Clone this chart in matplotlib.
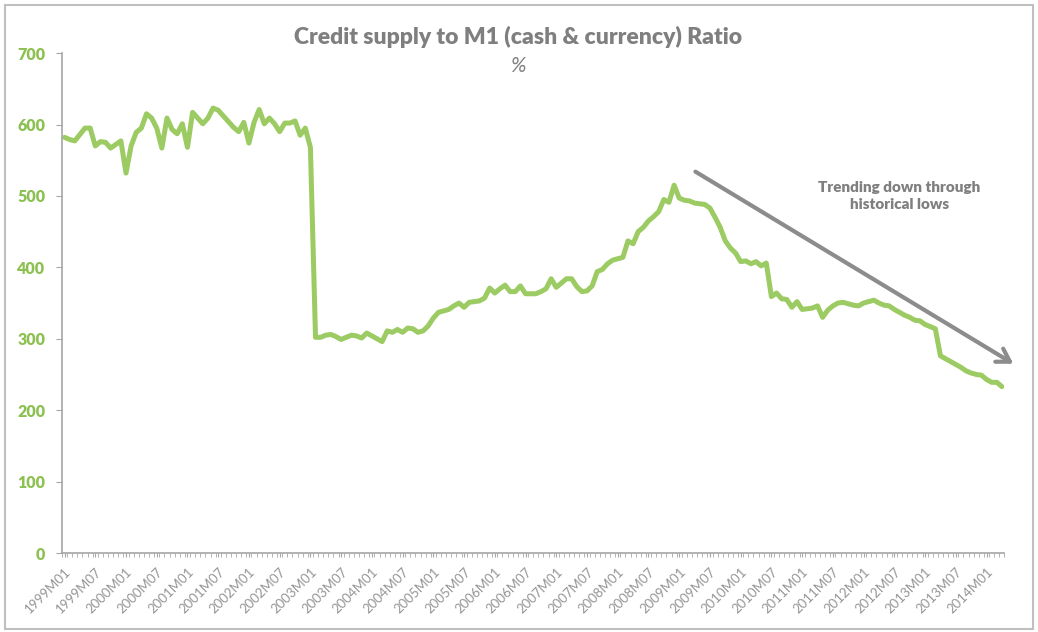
import numpy as np
import matplotlib
matplotlib.use('Agg')
import matplotlib.pyplot as plt
from matplotlib.patches import Rectangle

plt.rcParams['font.family'] = ['Lato', 'DejaVu Sans']

# monthly ratio, 1999M01 .. 2014M04
ratio = [
	582, 579, 577, 586, 595, 595, 570, 576, 575, 567, 572, 577,
	532, 570, 589, 595, 615, 609, 595, 567, 609, 593, 587, 601,
	568, 617, 609, 601, 609, 623, 620, 612, 604, 596, 590, 603,
	574, 603, 621, 601, 609, 601, 590, 602, 602, 605, 585, 595,
	568, 302, 302, 305, 306, 303, 299, 302, 305, 304, 301, 308,
	304, 300, 296, 311, 309, 313, 309, 315, 314, 309, 311, 318,
	329, 337, 339, 341, 346, 350, 344, 351, 352, 353, 357, 371,
	364, 370, 375, 366, 366, 374, 363, 363, 363, 366, 370, 384,
	372, 378, 384, 384, 373, 366, 367, 374, 394, 397, 405, 410,
	412, 414, 437, 433, 450, 456, 465, 471, 478, 495, 491, 515,
	497, 494, 493, 490, 489, 488, 483, 470, 456, 437, 427, 420,
	408, 409, 405, 408, 402, 406, 359, 364, 356, 355, 344, 352,
	341, 342, 343, 346, 330, 340, 346, 350, 351, 349, 347, 346,
	350, 352, 354, 350, 347, 346, 341, 337, 333, 330, 326, 325,
	320, 317, 314, 276, 272, 268, 264, 260, 255, 252, 250, 249,
	243, 239, 239, 233,
]
months = ['%dM%02d' % (1999 + i // 12, i % 12 + 1) for i in range(len(ratio))]
yticks = [0, 100, 200, 300, 400, 500, 600, 700]

green = '#9BCB62'
label_green = '#8CC152'
grey = '#7F7F7F'

fig = plt.figure(figsize=(10.38, 6.32), dpi=100)
ax = fig.add_axes([0.0597, 0.125, 0.908, 0.791])
x = np.arange(len(ratio))
ax.plot(x, ratio, color=green, linewidth=3.6, solid_joinstyle='round', solid_capstyle='round')

ax.set_xlim(-0.5, len(ratio) - 0.5)
ax.set_ylim(0, 700)
ax.set_yticks(yticks)
ax.set_yticklabels([str(v) for v in yticks], fontsize=11.5, fontweight='heavy', color=label_green)
ax.set_xticks(x[::6])
ax.set_xticklabels(months[::6], rotation=45, ha='right', va='top', rotation_mode='anchor',
	fontsize=9.5, color='#959595')
ax.set_xticks(np.arange(-0.5, len(ratio), 1), minor=True)
ax.tick_params(axis='x', which='both', length=3, color='#A6A6A6', pad=6)
ax.tick_params(axis='y', length=4, color='#A6A6A6', pad=8)

for s in ['top', 'right']:
	ax.spines[s].set_visible(False)
for s in ['left', 'bottom']:
	ax.spines[s].set_color('#A6A6A6')
	ax.spines[s].set_linewidth(1.2)

ax.annotate('', xy=(185.7, 263), xytext=(122.7, 536), annotation_clip=False,
	arrowprops=dict(arrowstyle='->, head_length=0.9, head_width=0.55', lw=3, color='#8C8C8C'))
ax.text(163, 500, 'Trending down through\nhistorical lows', ha='center', va='center',
	fontsize=11, fontweight='heavy', color=grey, linespacing=1.35)

fig.text(0.499, 0.941, 'Credit supply to M1 (cash & currency) Ratio', ha='center', va='center',
	fontsize=16.5, fontweight='heavy', color=grey)
fig.text(0.499, 0.895, '%', ha='center', va='center', fontsize=15, style='italic', color=grey)

fig.patches.append(Rectangle((5 / 1038, 3 / 632), 1028 / 1038, 624 / 632, transform=fig.transFigure,
	fill=False, edgecolor='#BFBFBF', linewidth=1.5))

plt.savefig('out.png', dpi=100)
